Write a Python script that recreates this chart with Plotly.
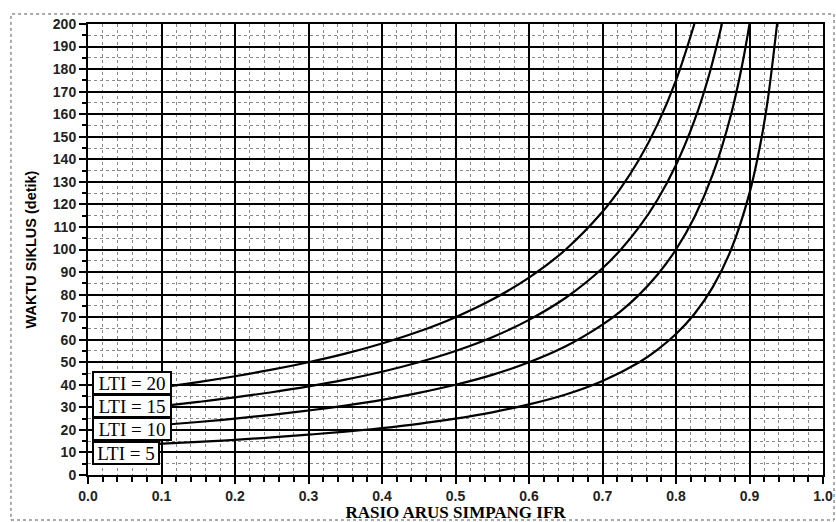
import plotly.graph_objects as go

# Values
lti_labels = ["LTI = 20", "LTI = 15", "LTI = 10", "LTI = 5"]
label_y = [40.8, 30.6, 20.4, 9.8]

x_lti20 = [0.112, 0.15, 0.2, 0.25, 0.3, 0.35, 0.4, 0.45, 0.5, 0.55, 0.6, 0.65, 0.7, 0.725, 0.75, 0.775, 0.8, 0.825]
y_lti20 = [39.4, 41.2, 43.8, 46.7, 50.0, 53.8, 58.3, 63.6, 70.0, 77.8, 87.5, 100.0, 116.7, 127.3, 140.0, 155.6, 175.0, 200.0]

x_lti15 = [0.112, 0.15, 0.2, 0.25, 0.3, 0.35, 0.4, 0.45, 0.5, 0.55, 0.6, 0.65, 0.7, 0.725, 0.75, 0.775, 0.8, 0.825, 0.845, 0.8625]
y_lti15 = [31.0, 32.4, 34.4, 36.7, 39.3, 42.3, 45.8, 50.0, 55.0, 61.1, 68.8, 78.6, 91.7, 100.0, 110.0, 122.2, 137.5, 157.1, 177.4, 200.0]

x_lti10 = [0.112, 0.15, 0.2, 0.25, 0.3, 0.35, 0.4, 0.45, 0.5, 0.55, 0.6, 0.65, 0.7, 0.725, 0.75, 0.775, 0.8, 0.825, 0.85, 0.875, 0.89, 0.9]
y_lti10 = [22.5, 23.5, 25.0, 26.7, 28.6, 30.8, 33.3, 36.4, 40.0, 44.4, 50.0, 57.1, 66.7, 72.7, 80.0, 88.9, 100.0, 114.3, 133.3, 160.0, 181.8, 200.0]

x_lti5 = [0.095, 0.15, 0.2, 0.25, 0.3, 0.35, 0.4, 0.45, 0.5, 0.55, 0.6, 0.65, 0.7, 0.75, 0.775, 0.8, 0.825, 0.85, 0.875, 0.9, 0.915, 0.925, 0.9375]
y_lti5 = [13.8, 14.7, 15.6, 16.7, 17.9, 19.2, 20.8, 22.7, 25.0, 27.8, 31.3, 35.7, 41.7, 50.0, 55.6, 62.5, 71.4, 83.3, 100.0, 125.0, 147.1, 166.7, 200.0]

x_ticks = [0.0, 0.1, 0.2, 0.3, 0.4, 0.5, 0.6, 0.7, 0.8, 0.9, 1.0]
x_ticktext = ["0.0", "0.1", "0.2", "0.3", "0.4", "0.5", "0.6", "0.7", "0.8", "0.9", "1.0"]
y_ticks = list(range(0, 201, 10))

curves = [(x_lti20, y_lti20), (x_lti15, y_lti15), (x_lti10, y_lti10), (x_lti5, y_lti5)]

fig = go.Figure()
for xs, ys in curves:
    fig.add_trace(go.Scatter(x=xs, y=ys, mode="lines", line=dict(color="black", width=2.2, shape="spline", smoothing=1.0),
                             showlegend=False, hoverinfo="skip", cliponaxis=True))

label_widths = [74, 74, 74, 62]
for txt, yy, w in zip(lti_labels, label_y, label_widths):
    fig.add_annotation(x=0.006, y=yy, xref="x", yref="y", xanchor="left", yanchor="middle",
                       text=txt, showarrow=False, width=w, height=18, align="center",
                       font=dict(family="Liberation Serif", size=19, color="black"),
                       bgcolor="white", bordercolor="black", borderwidth=2, borderpad=1)

# dotted outer frame
fig.add_shape(type="rect", xref="paper", yref="paper",
              x0=-0.1048, x1=1.0150, y0=-0.0998, y1=1.0222,
              line=dict(color="#555555", width=1, dash="dot"), layer="below")

fig.update_xaxes(range=[0, 1.0], tickvals=x_ticks, ticktext=x_ticktext, automargin=False,
                 showgrid=True, gridcolor="black", gridwidth=2,
                 ticks="outside", ticklen=7, tickwidth=2, tickcolor="black",
                 showline=True, linecolor="black", linewidth=2, mirror=True,
                 zeroline=False,
                 tickfont=dict(family="Liberation Sans", size=14, color="#222222", weight="bold"),
                 minor=dict(dtick=0.02, ticks="outside", ticklen=5, tickwidth=2, tickcolor="black",
                            showgrid=True, gridcolor="#8a8a8a", gridwidth=1, griddash="dot"),
                 title=dict(text="RASIO ARUS SIMPANG IFR", standoff=4,
                            font=dict(family="Liberation Serif", size=17, color="black", weight="bold")))
fig.update_yaxes(range=[0, 200], tickvals=y_ticks, automargin=False,
                 showgrid=True, gridcolor="black", gridwidth=2,
                 ticks="outside", ticklen=7, tickwidth=2, tickcolor="black",
                 showline=True, linecolor="black", linewidth=2, mirror=True,
                 zeroline=False,
                 tickfont=dict(family="Liberation Sans", size=14, color="#222222", weight="bold"),
                 minor=dict(dtick=5, ticks="outside", ticklen=4, tickwidth=2, tickcolor="black",
                            showgrid=True, gridcolor="#8a8a8a", gridwidth=1, griddash="dot"),
                 title=dict(text="WAKTU SIKLUS (detik)", standoff=13,
                            font=dict(family="Liberation Sans", size=14.5, color="black", weight="bold")))

fig.update_layout(width=836, height=522, margin=dict(l=88, r=13, t=24, b=47),
                  plot_bgcolor="white", paper_bgcolor="white", showlegend=False)

fig.write_html("out.html", config={"displayModeBar": False},
               post_script="document.body.style.margin='0';document.body.style.overflow='hidden';")
